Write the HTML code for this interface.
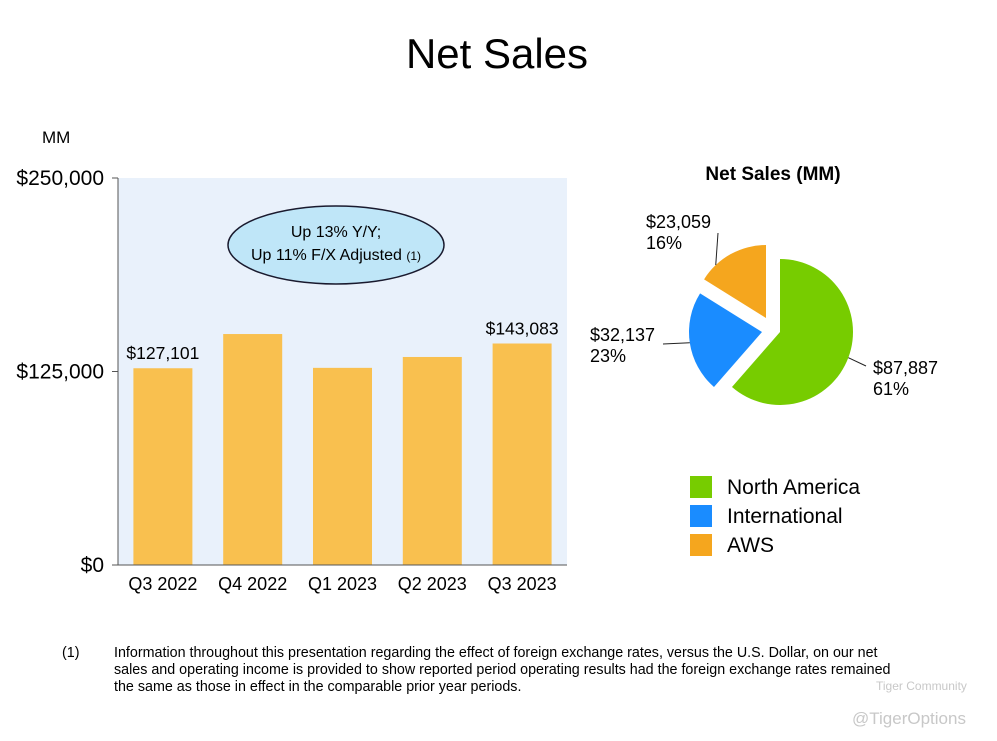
<!DOCTYPE html>
<html><head><meta charset="utf-8"><style>
body{margin:0;background:#fff;font-family:"Liberation Sans",Arial,sans-serif;}
svg{display:block}
</style></head><body>
<svg width="997" height="741" viewBox="0 0 997 741">
<text x="497" y="68" text-anchor="middle" font-size="42" fill="#000">Net Sales</text>
<text x="42" y="143" font-size="17">MM</text>
<rect x="118" y="178" width="449" height="387" fill="#e9f1fb"/>
<g id="bars"></g>
<line x1="118" y1="178" x2="118" y2="565" stroke="#555"/>
<line x1="118" y1="565" x2="567" y2="565" stroke="#555"/>
<g id="yticks"></g>
<ellipse cx="336" cy="245" rx="108" ry="39" fill="#bfe6f8" stroke="#1a1a2e" stroke-width="1.5"/>
<text x="336" y="237" text-anchor="middle" font-size="16">Up 13% Y/Y;</text>
<text x="336" y="260" text-anchor="middle" font-size="16">Up 11% F/X Adjusted <tspan font-size="12">(1)</tspan></text>
<text x="773" y="180" text-anchor="middle" font-size="19" font-weight="bold">Net Sales (MM)</text>
<g id="pie"></g>
<g>
<rect x="690" y="476" width="22" height="22" fill="#77cc00"/>
<text x="727" y="494" font-size="21">North America</text>
<rect x="690" y="505" width="22" height="22" fill="#1a8cff"/>
<text x="727" y="523" font-size="21">International</text>
<rect x="690" y="534" width="22" height="22" fill="#f5a61e"/>
<text x="727" y="552" font-size="21">AWS</text>
</g>
<g font-size="14.3">
<text x="62" y="657">(1)</text>
<text x="114" y="657">Information throughout this presentation regarding the effect of foreign exchange rates, versus the U.S. Dollar, on our net</text>
<text x="114" y="674">sales and operating income is provided to show reported period operating results had the foreign exchange rates remained</text>
<text x="114" y="691">the same as those in effect in the comparable prior year periods.</text>
</g>
<text x="876" y="690" font-size="12" fill="#c8c8c8">Tiger Community</text>
<text x="852" y="724" font-size="17" fill="#c8c8c8">@TigerOptions</text>
</svg>
<script>
const categories=["Q3 2022","Q4 2022","Q1 2023","Q2 2023","Q3 2023"];
const sales=[127101,149204,127358,134383,143083];
const barLabels=["$127,101","","","","$143,083"];
const yTicks=[0,125000,250000];
const yTickLabels=["$0","$125,000","$250,000"];
const pieNames=["North America","International","AWS"];
const pieValues=[87887,32137,23059];
const pieLabels=[["$87,887","61%"],["$32,137","23%"],["$23,059","16%"]];
const NS="http://www.w3.org/2000/svg";
function mk(t,a,p){const e=document.createElementNS(NS,t);for(const k in a)e.setAttribute(k,a[k]);p.appendChild(e);return e;}
const x0=118,pw=449,y0=565,ph=387,ymax=250000;
const ys=v=>y0-v/ymax*ph;
const band=pw/categories.length,bw=59;
const bars=document.getElementById('bars');
categories.forEach((c,i)=>{
  const cx=x0+band*(i+0.5);
  const r=mk('rect',{x:cx-bw/2,y:ys(sales[i]),width:bw,height:y0-ys(sales[i]),fill:'#f9c04f'},bars);
  
  
  const t=mk('text',{x:cx,y:590,'text-anchor':'middle','font-size':18},bars);t.textContent=c;
  
  
  if(barLabels[i]){const l=mk('text',{x:cx,y:ys(sales[i])-9,'text-anchor':'middle','font-size':17.5},bars);l.textContent=barLabels[i];
  
  }
});
const yt=document.getElementById('yticks');
yTicks.forEach((v,i)=>{
  mk('line',{x1:112,x2:118,y1:ys(v),y2:ys(v),stroke:'#555'},yt);
  const t=mk('text',{x:104,y:ys(v)+7,'text-anchor':'end','font-size':21},yt);t.textContent=yTickLabels[i];
  
  
});
const pie=document.getElementById('pie');
const colors=['#77cc00','#1a8cff','#f5a61e'];
const offs=[[0,0],[-18,0],[-14,-14]];
const cx=780,cy=332,R=73;
const tot=pieValues.reduce((a,b)=>a+b,0);
let a=0;
const lblPos=[[873,374],[590,341],[646,228]];
const leaderEnds=[[866,366],[663,344],[718,233]];
const leaderFrac=[0.5,0.5,0.25];
pieValues.forEach((v,i)=>{
  const a1=a+v/tot*2*Math.PI;
  const ox=cx+offs[i][0],oy=cy+offs[i][1];
  const p=(t)=>[ox+R*Math.sin(t),oy-R*Math.cos(t)];
  const s=p(a),e=p(a1),large=(a1-a)>Math.PI?1:0;
  const path=mk('path',{d:`M${ox},${oy}L${s[0]},${s[1]}A${R},${R} 0 ${large} 1 ${e[0]},${e[1]}Z`,fill:colors[i]},pie);
  
  
  const m=p(a+(a1-a)*leaderFrac[i]);
  const le=leaderEnds[i];
  mk('line',{x1:m[0],y1:m[1],x2:le[0],y2:le[1],stroke:'#222'},pie);
  const lp=lblPos[i];
  const t=mk('text',{x:lp[0],y:lp[1],'font-size':18},pie);
  
  
  pieLabels[i].forEach((s,j)=>{const ts=mk('tspan',{x:lp[0],dy:j?21:0},t);ts.textContent=s;});
  a=a1;
});
</script>
</body></html>
